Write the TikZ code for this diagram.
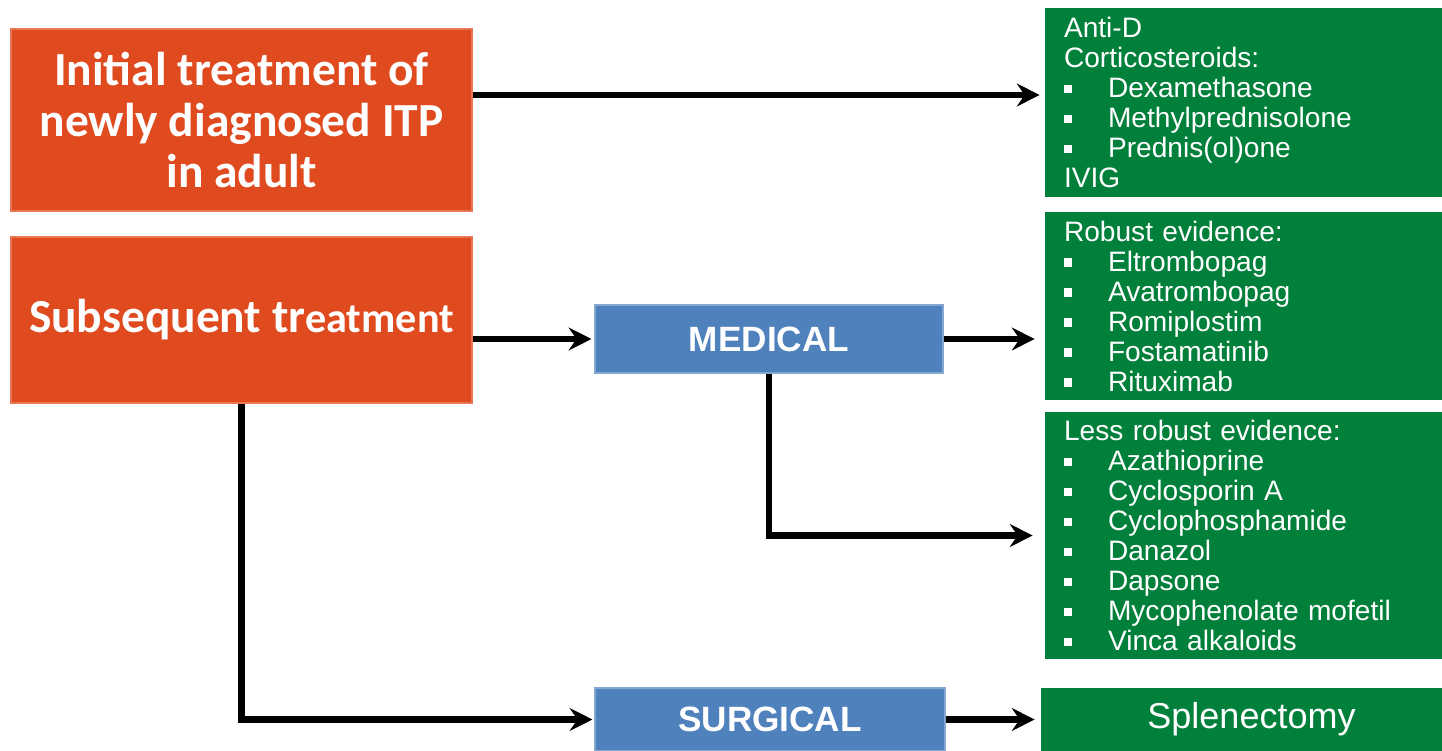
\documentclass[tikz,border=0pt]{standalone}
\usepackage{fontspec}
\setmainfont{Liberation Sans}
\newfontfamily\calibri{Carlito}
\usetikzlibrary{arrows.meta}

\definecolor{itporange}{RGB}{224,74,31}
\definecolor{itpblue}{RGB}{79,129,189}
\definecolor{itpgreen}{RGB}{0,128,58}

\newcommand{\itm}[1]{\makebox[0.88cm][l]{\raisebox{2.4pt}{\rule{4.8pt}{4.8pt}}}#1}

\begin{document}
\begin{tikzpicture}
[   obox/.style={fill=itporange,draw=itporange!75!white,line width=0.6pt,text=white,
        font=\calibri\bfseries\fontsize{27}{29}\selectfont,align=center,
        minimum width=9.22cm,inner sep=0pt},
    bbox/.style={fill=itpblue,draw=itpblue!70!white,line width=0.6pt,text=white,
        font=\bfseries\fontsize{20}{24}\selectfont,minimum height=1.36cm,inner sep=0pt},
    gbox/.style={fill=itpgreen,text=white,font=\fontsize{16}{17.07}\selectfont,
        text width=7.18cm,inner xsep=0.38cm,inner ysep=0pt,align=left},
    arr/.style={line width=3.8pt,-{Stealth[length=13pt,width=13pt,inset=4.5pt]}},
]
    \useasboundingbox (0,0) rectangle (28.84,-15.02);

    % left column
    \node[obox,minimum height=3.64cm] (init) at (4.83,-2.40)
        {Initial treatment of\\newly diagnosed ITP\\in adult};
    \node[obox,minimum height=3.32cm] (subs) at (4.83,-6.40)
        {Subsequent tr{\fontsize{24}{29}\selectfont eatment}};

    % middle column
    \node[bbox,minimum width=6.96cm] (medical) at (15.38,-6.78) {MEDICAL};
    \node[bbox,minimum width=7.00cm,minimum height=1.26cm] (surgical) at (15.40,-14.39) {SURGICAL};

    % right column
    \node[gbox,minimum height=3.78cm] (firstline) at (24.87,-2.05)
        {Anti-D\\Corticosteroids:\\\itm{Dexamethasone}\\\itm{Methylprednisolone}\\\itm{Prednis(ol)one}\\IVIG};
    \node[gbox,minimum height=3.76cm] (robust) at (24.87,-6.12)
        {Robust evidence:\\\itm{Eltrombopag}\\\itm{Avatrombopag}\\\itm{Romiplostim}\\\itm{Fostamatinib}\\\itm{Rituximab}};
    \node[gbox,minimum height=4.94cm] (lessrobust) at (24.87,-10.71)
        {Less robust evidence:\\\itm{Azathioprine}\\\itm{Cyclosporin A}\\\itm{Cyclophosphamide}\\\itm{Danazol}\\\itm{Dapsone}\\\itm{Mycophenolate mofetil}\\\itm{Vinca alkaloids}};
    \node[fill=itpgreen,text=white,font=\fontsize{20.5}{23}\selectfont,
        minimum width=8.02cm,minimum height=1.26cm,inner sep=0pt] (splen) at (24.83,-14.39)
        {\hspace*{0.4cm}Splenectomy};

    % connectors
    \draw[arr,shorten >=0.1cm] ([yshift=0.5cm]init.east) -- ([yshift=0.5cm]init.east -| firstline.west);
    \draw[arr,shorten >=0.06cm] (subs.east |- medical) -- (medical.west);
    \draw[arr,shorten >=0.2cm] (medical.east) -- (medical.east -| robust.west);
    \draw[arr,shorten >=0.24cm] (medical.south) |- (lessrobust.west);
    \draw[arr,shorten >=0.04cm] (subs.south) |- (surgical.west);
    \draw[arr,shorten >=0.12cm] (surgical.east) -- (splen.west);
\end{tikzpicture}
\end{document}
